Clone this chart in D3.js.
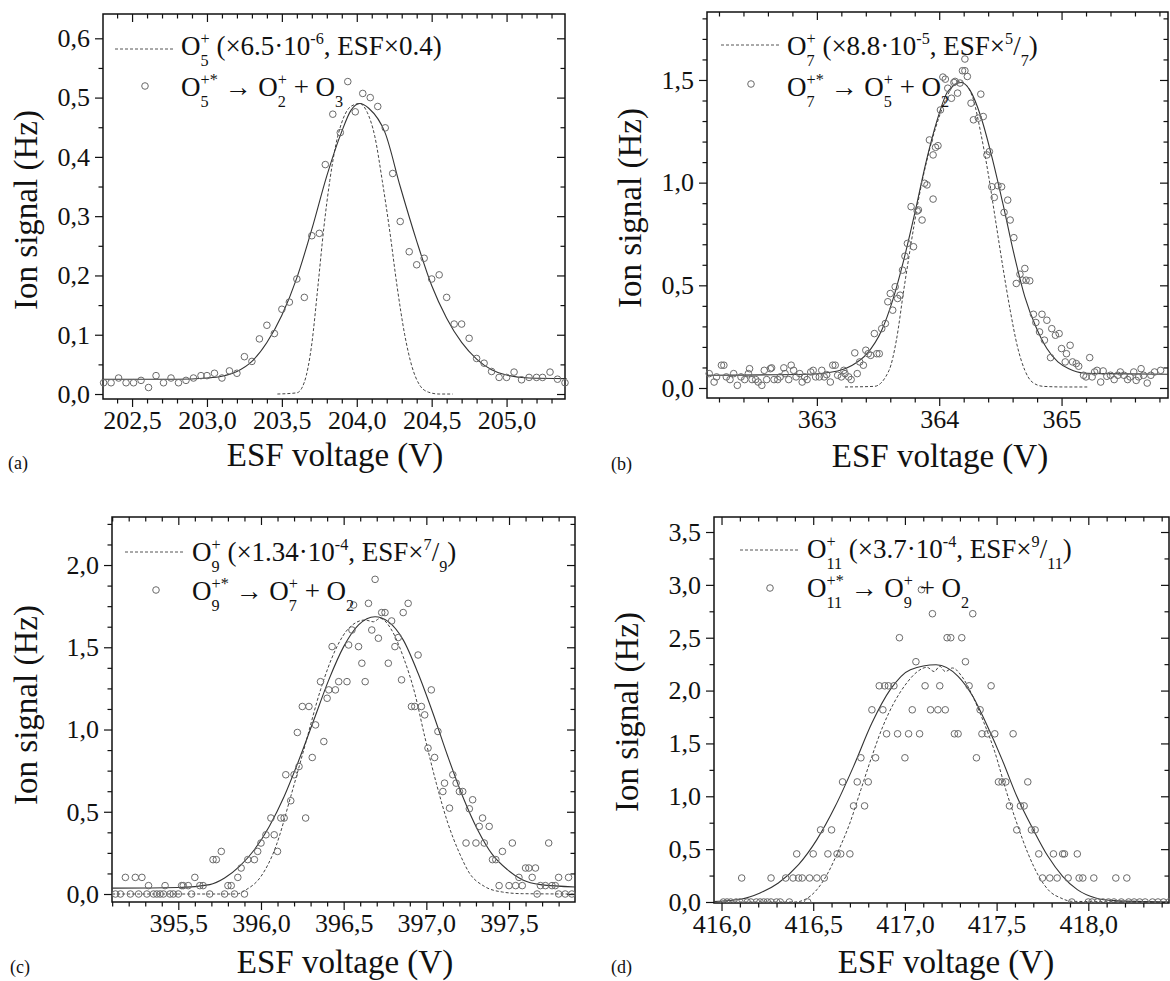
<!DOCTYPE html>
<html>
<head>
<meta charset="utf-8">
<script src="https://cdn.jsdelivr.net/npm/d3@7"></script>
<style>
  body { margin: 0; background: #fff; }
  text { font-family: "Liberation Serif", "Times New Roman", serif; fill: #111; white-space: pre; }
</style>
</head>
<body>
<svg id="fig" width="1170" height="981"></svg>
<script>
// ---- data ----
// (a) O5+* -> O2+ + O3
const aVolt = [202.31,202.36,202.41,202.46,202.51,202.56,202.61,202.66,202.71,202.76,202.81,202.86,202.91,202.96,
  203.00,203.05,203.10,203.15,203.20,203.25,203.30,203.35,203.40,203.45,203.50,203.55,203.60,203.65,203.70,203.75,
  203.79,203.84,203.89,203.94,203.99,204.04,204.09,204.14,204.19,204.24,204.29,204.35,204.40,204.45,204.50,204.55,
  204.60,204.65,204.70,204.75,204.80,204.85,204.90,204.95,205.00,205.05,205.10,205.15,205.20,205.24,205.29,205.34,205.39];
const aSignal = [0.019,0.019,0.027,0.019,0.019,0.023,0.011,0.031,0.019,0.027,0.019,0.023,0.027,0.031,
  0.031,0.035,0.027,0.039,0.035,0.063,0.055,0.093,0.116,0.102,0.143,0.155,0.194,0.163,0.267,0.271,
  0.387,0.472,0.441,0.527,0.476,0.507,0.500,0.485,0.449,0.372,0.291,0.240,0.218,0.229,0.194,0.201,
  0.163,0.118,0.118,0.094,0.060,0.052,0.038,0.028,0.028,0.037,0.024,0.028,0.028,0.028,0.037,0.025,0.019];
const aFit = [[202.30,0.025],[202.8,0.025],[203.0,0.027],[203.1,0.030],[203.2,0.038],[203.3,0.055],[203.4,0.087],
  [203.5,0.133],[203.6,0.196],[203.7,0.278],[203.8,0.368],[203.9,0.443],[203.96,0.478],[204.02,0.490],[204.08,0.482],
  [204.19,0.440],[204.29,0.350],[204.40,0.258],[204.50,0.183],[204.60,0.128],[204.70,0.087],[204.80,0.059],
  [204.90,0.041],[205.00,0.032],[205.15,0.027],[205.40,0.026]];
const aParent = [[203.47,0.0],[203.60,0.002],[203.65,0.02],[203.70,0.085],[203.74,0.18],[203.78,0.28],[203.82,0.36],
  [203.86,0.42],[203.91,0.465],[203.96,0.485],[204.02,0.490],[204.07,0.475],[204.12,0.435],[204.17,0.36],[204.22,0.275],
  [204.27,0.18],[204.32,0.10],[204.37,0.045],[204.42,0.015],[204.48,0.003],[204.55,0.0],[204.64,0.0]];

// (b) O7+* -> O5+ + O2
const bPoints = [[362.12,0.070],[362.16,0.029],[362.18,0.054],[362.22,0.111],[362.24,0.111],[362.26,0.054],[362.29,0.041],
  [362.32,0.070],[362.35,0.013],[362.38,0.054],[362.41,0.041],[362.44,0.070],[362.45,0.094],[362.47,0.041],[362.50,0.041],
  [362.52,0.029],[362.55,0.013],[362.57,0.086],[362.59,0.041],[362.62,0.094],[362.63,0.098],[362.65,0.041],[362.68,0.041],
  [362.70,0.054],[362.73,0.098],[362.74,0.070],[362.77,0.041],[362.79,0.111],[362.81,0.086],[362.83,0.054],[362.86,0.070],
  [362.88,0.029],[362.90,0.054],[362.92,0.041],[362.95,0.078],[362.97,0.086],[362.99,0.054],[363.02,0.054],[363.04,0.086],
  [363.06,0.054],[363.08,0.065],[363.11,0.029],[363.13,0.111],[363.15,0.111],[363.17,0.062],[363.20,0.054],[363.22,0.086],
  [363.23,0.070],[363.26,0.054],[363.28,0.041],[363.31,0.171],[363.33,0.070],[363.35,0.127],[363.38,0.111],[363.40,0.184],
  [363.42,0.167],[363.44,0.159],[363.47,0.265],[363.49,0.167],[363.51,0.167],[363.53,0.289],[363.56,0.314],[363.58,0.420],
  [363.60,0.460],[363.62,0.379],[363.64,0.493],[363.66,0.436],[363.68,0.452],[363.70,0.574],[363.72,0.642],[363.74,0.704],
  [363.77,0.883],[363.79,0.688],[363.82,0.862],[363.83,0.867],[363.86,0.818],[363.88,0.997],[363.90,0.989],[363.92,1.208],
  [363.95,0.920],[363.95,1.135],[363.97,1.172],[363.99,1.180],[364.01,1.354],[364.03,1.514],[364.05,1.504],[364.07,1.460],
  [364.10,1.411],[364.12,1.488],[364.13,1.493],[364.15,1.436],[364.17,1.485],[364.19,1.545],[364.21,1.545],[364.21,1.602],
  [364.23,1.517],[364.26,1.387],[364.28,1.306],[364.32,1.314],[364.34,1.431],[364.36,1.322],[364.39,1.135],[364.41,1.151],
  [364.43,0.980],[364.45,0.928],[364.48,0.985],[364.51,0.980],[364.53,0.855],[364.56,0.915],[364.58,0.818],[364.61,0.732],
  [364.63,0.509],[364.66,0.554],[364.68,0.525],[364.70,0.582],[364.71,0.525],[364.74,0.522],[364.77,0.359],[364.79,0.319],
  [364.82,0.273],[364.84,0.359],[364.86,0.233],[364.88,0.330],[364.91,0.148],[364.92,0.289],[364.95,0.257],[364.98,0.265],
  [365.00,0.192],[365.03,0.127],[365.04,0.167],[365.07,0.208],[365.09,0.127],[365.12,0.119],[365.14,0.106],[365.18,0.062],
  [365.20,0.054],[365.23,0.148],[365.25,0.054],[365.27,0.078],[365.29,0.086],[365.32,0.029],[365.34,0.083],[365.37,0.057],
  [365.40,0.062],[365.43,0.041],[365.46,0.062],[365.48,0.078],[365.51,0.062],[365.54,0.041],[365.56,0.054],[365.59,0.078],
  [365.61,0.037],[365.63,0.054],[365.65,0.094],[365.67,0.062],[365.70,0.024],[365.73,0.062],[365.76,0.078],[365.81,0.086]];
const bFit = [[362.10,0.062],[362.92,0.067],[363.17,0.083],[363.29,0.111],[363.41,0.167],[363.53,0.281],[363.62,0.428],
  [363.71,0.623],[363.80,0.850],[363.89,1.094],[363.98,1.298],[364.07,1.444],[364.18,1.488],[364.25,1.452],[364.34,1.322],
  [364.43,1.127],[364.52,0.899],[364.61,0.655],[364.70,0.444],[364.79,0.298],[364.88,0.192],[364.97,0.127],[365.06,0.094],
  [365.18,0.073],[365.33,0.070],[365.87,0.067]];
const bParent = [[363.23,0.005],[363.47,0.008],[363.59,0.086],[363.65,0.233],[363.71,0.476],[363.77,0.704],[363.83,0.915],
  [363.92,1.159],[364.01,1.338],[364.10,1.460],[364.16,1.493],[364.22,1.476],[364.28,1.403],[364.34,1.241],[364.40,1.046],
  [364.46,0.818],[364.52,0.590],[364.58,0.379],[364.64,0.200],[364.70,0.086],[364.76,0.029],[364.85,0.008],[365.03,0.005],
  [365.21,0.005]];

// (c) O9+* -> O7+ + O2
const cPoints = [[395.12,0],[395.15,0],[395.21,0],[395.26,0],[395.31,0],[395.35,0],[395.37,0],[395.39,0],[395.41,0],
  [395.45,0],[395.47,0],[395.50,0],[395.58,0],[395.69,0],[395.78,0],[395.84,0],[395.90,0],[397.67,0],[397.80,0],[397.84,0],
  [397.88,0],[395.18,0.101],[395.24,0.101],[395.28,0.101],[395.32,0.051],[395.42,0.051],[395.52,0.051],[395.53,0.051],
  [395.56,0.051],[395.60,0.101],[395.63,0.051],[395.65,0.051],[395.71,0.209],[395.73,0.209],[395.76,0.259],[395.80,0.051],
  [395.82,0.051],[395.86,0.101],[395.88,0.158],[395.92,0.209],[395.96,0.209],[395.98,0.259],[396.00,0.310],[396.03,0.360],
  [396.06,0.462],[396.08,0.360],[396.10,0.259],[396.12,0.462],[396.14,0.462],[396.15,0.725],[396.18,0.567],[396.20,0.725],
  [396.22,0.982],[396.23,0.775],[396.25,1.140],[396.29,1.140],[396.27,0.462],[396.31,0.830],[396.33,1.028],[396.36,1.291],
  [396.38,0.927],[396.40,1.190],[396.41,1.241],[396.43,1.504],[396.45,1.241],[396.47,1.291],[396.52,1.291],[396.53,1.514],
  [396.55,1.605],[396.56,1.757],[396.59,1.504],[396.61,1.403],[396.63,1.291],[396.65,1.767],[396.67,1.605],[396.69,1.913],
  [396.71,1.555],[396.73,1.711],[396.75,1.711],[396.77,1.403],[396.79,1.660],[396.81,1.504],[396.83,1.559],[396.85,1.302],
  [396.86,1.711],[396.89,1.767],[396.91,1.140],[396.93,1.140],[396.95,1.453],[396.97,1.140],[396.99,1.089],[397.01,0.887],
  [397.03,1.241],[397.05,0.830],[397.07,0.988],[397.10,0.623],[397.11,0.674],[397.14,0.522],[397.16,0.725],[397.18,0.674],
  [397.20,0.623],[397.22,0.623],[397.24,0.310],[397.26,0.518],[397.28,0.573],[397.30,0.310],[397.32,0.411],[397.34,0.462],
  [397.35,0.310],[397.38,0.411],[397.40,0.209],[397.42,0.209],[397.44,0.051],[397.46,0.259],[397.50,0.051],[397.52,0.310],
  [397.54,0.051],[397.56,0.101],[397.58,0.051],[397.60,0.158],[397.62,0.158],[397.64,0.101],[397.66,0.158],[397.69,0.051],
  [397.72,0.051],[397.74,0.310],[397.76,0.051],[397.78,0.051],[397.80,0.101],[397.86,0.101]];
const cFit = [[395.10,0.036],[395.50,0.040],[395.69,0.057],[395.78,0.097],[395.87,0.168],[395.96,0.269],[396.05,0.411],
  [396.14,0.593],[396.23,0.816],[396.32,1.059],[396.41,1.302],[396.50,1.504],[396.59,1.636],[396.69,1.686],[396.77,1.656],
  [396.86,1.545],[396.95,1.342],[397.04,1.099],[397.13,0.836],[397.22,0.593],[397.31,0.391],[397.40,0.239],[397.49,0.148],
  [397.58,0.087],[397.69,0.057],[397.90,0.043]];
const cParent = [[395.10,0],[395.85,0],[395.91,0.026],[396.00,0.107],[396.09,0.289],[396.18,0.593],[396.27,0.917],
  [396.36,1.241],[396.45,1.484],[396.54,1.625],[396.63,1.666],[396.68,1.655],[396.72,1.676],[396.79,1.605],[396.86,1.443],
  [396.93,1.221],[396.99,0.958],[397.06,0.674],[397.13,0.431],[397.20,0.249],[397.26,0.128],[397.35,0.047],[397.46,0.012],
  [397.58,0.002],[397.90,0]];

// (d) O11+* -> O9+ + O2
const dPoints = [[416.01,0],[416.03,0],[416.05,0],[416.08,0],[416.10,0],[416.14,0],[416.16,0],[416.19,0],[416.21,0],
  [416.23,0],[416.25,0],[416.27,0],[416.30,0],[416.32,0],[416.37,0],[416.47,0],[417.91,0],[418.00,0],[418.02,0],[418.05,0],
  [418.08,0],[418.11,0],[418.14,0],[418.18,0],[418.22,0],[418.25,0],[418.28,0],[418.31,0],[418.35,0],[418.38,0],[418.41,0],
  [418.44,0],
  [416.11,0.227],[416.27,0.227],[416.35,0.227],[416.39,0.227],[416.42,0.227],[416.44,0.227],[416.48,0.227],[416.52,0.227],
  [416.56,0.227],[417.75,0.227],[417.79,0.227],[417.83,0.227],[417.89,0.227],[417.95,0.227],[417.97,0.227],[418.03,0.227],
  [418.15,0.227],[418.21,0.227],
  [416.41,0.455],[416.50,0.455],[416.58,0.455],[416.63,0.455],[416.65,0.455],[416.70,0.455],[417.73,0.455],[417.81,0.455],
  [417.86,0.455],[417.87,0.455],[417.94,0.455],
  [416.54,0.682],[416.60,0.682],[417.61,0.682],[417.69,0.682],[417.71,0.682],
  [416.72,0.909],[416.78,0.909],[417.57,0.909],[417.63,0.909],[417.65,0.909],
  [416.66,1.136],[416.74,1.136],[416.80,1.136],[417.51,1.136],[417.53,1.136],[417.55,1.136],[417.67,1.136],
  [416.76,1.364],[416.84,1.364],[417.00,1.364],[417.39,1.364],
  [416.90,1.591],[416.96,1.591],[417.02,1.591],[417.08,1.591],[417.27,1.591],[417.29,1.591],[417.42,1.591],[417.45,1.591],
  [417.49,1.591],[417.59,1.591],
  [416.82,1.818],[416.88,1.818],[417.04,1.818],[417.14,1.818],[417.18,1.818],[417.22,1.818],[417.41,1.818],
  [416.86,2.045],[416.89,2.045],[416.91,2.045],[416.94,2.045],[417.11,2.045],[417.19,2.045],[417.35,2.045],[417.47,2.045],
  [417.06,2.273],[417.33,2.273],
  [416.97,2.5],[417.23,2.5],[417.25,2.5],[417.31,2.5],
  [417.15,2.727],[417.37,2.727],
  [417.09,2.955]];
const dFit = [[415.96,0.005],[416.11,0.028],[416.21,0.085],[416.31,0.18],[416.42,0.353],[416.52,0.59],[416.62,0.905],
  [416.72,1.283],[416.82,1.693],[416.92,2.009],[417.03,2.198],[417.17,2.245],[417.29,2.135],[417.37,1.946],[417.45,1.662],
  [417.53,1.347],[417.61,1.0],[417.70,0.684],[417.78,0.432],[417.86,0.243],[417.94,0.117],[418.04,0.038],[418.14,0.013],
  [418.44,0.0]];
const dParent = [[415.96,0],[416.40,0],[416.46,0.028],[416.52,0.117],[416.58,0.274],[416.64,0.495],[416.70,0.747],
  [416.76,1.063],[416.82,1.378],[416.88,1.662],[416.94,1.883],[417.01,2.072],[417.07,2.182],[417.12,2.22],[417.16,2.18],
  [417.19,2.23],[417.22,2.18],[417.26,2.214],[417.31,2.135],[417.37,1.946],[417.43,1.70],[417.49,1.42],[417.55,1.063],
  [417.61,0.747],[417.67,0.464],[417.73,0.243],[417.79,0.10],[417.85,0.038],[417.91,0.006],[418.44,0]];

// tick values
const aXTicks = [202.5, 203.0, 203.5, 204.0, 204.5, 205.0];
const aYTicks = [0, 0.1, 0.2, 0.3, 0.4, 0.5, 0.6];
const bXTicks = [363, 364, 365];
const bYTicks = [0, 0.5, 1.0, 1.5];
const cXTicks = [395.5, 396.0, 396.5, 397.0, 397.5];
const cYTicks = [0, 0.5, 1.0, 1.5, 2.0];
const dXTicks = [416.0, 416.5, 417.0, 417.5, 418.0];
const dYTicks = [0, 0.5, 1.0, 1.5, 2.0, 2.5, 3.0, 3.5];

// legend texts: strings are normal text, objects carry sub/superscripts
const aLegend = [
  ['O', {sub: '5', sup: '+'}, ' (×6.5·10', {sup: '-6'}, ', ESF×0.4)'],
  ['O', {sub: '5', sup: '+*'}, ' → O', {sub: '2', sup: '+'}, ' + O', {sub: '3'}]];
const bLegend = [
  ['O', {sub: '7', sup: '+'}, ' (×8.8·10', {sup: '-5'}, ', ESF×', {sup: '5'}, '/', {sub: '7'}, ')'],
  ['O', {sub: '7', sup: '+*'}, ' → O', {sub: '5', sup: '+'}, ' + O', {sub: '2'}]];
const cLegend = [
  ['O', {sub: '9', sup: '+'}, ' (×1.34·10', {sup: '-4'}, ', ESF×', {sup: '7'}, '/', {sub: '9'}, ')'],
  ['O', {sub: '9', sup: '+*'}, ' → O', {sub: '7', sup: '+'}, ' + O', {sub: '2'}]];
const dLegend = [
  ['O', {sub: '11', sup: '+'}, ' (×3.7·10', {sup: '-4'}, ', ESF×', {sup: '9'}, '/', {sub: '11'}, ')'],
  ['O', {sub: '11', sup: '+*'}, ' → O', {sub: '9', sup: '+'}, ' + O', {sub: '2'}]];

// ---- layout ----
const panels = [
  {id: 'a', box: [103, 14, 565, 399], xDom: [202.306, 205.39], yDom: [-0.0084, 0.641],
   pts: aVolt.map((v, i) => [v, aSignal[i]]), fit: aFit, parent: aParent,
   xTicks: aXTicks, xMinor: 0.1, xDig: 1, yTicks: aYTicks, yMinor: 0.05, yDig: 1, legend: aLegend,
   leg: {lx: [115, 173], ly: 49, tx: 181, r1: 55, r2: 96, cx: 145, cy: 86},
   yTitle: [37, 210], xTitle: [335, 466], tag: [8, 469]},
  {id: 'b', box: [707, 12, 1168, 398], xDom: [362.102, 365.87], yDom: [-0.0487, 1.831],
   pts: bPoints, fit: bFit, parent: bParent,
   xTicks: bXTicks, xMinor: 0.2, xDig: 0, yTicks: bYTicks, yMinor: 0.1, yDig: 1, legend: bLegend,
   leg: {lx: [721, 779], ly: 45, tx: 787, r1: 55, r2: 96, cx: 751, cy: 84},
   yTitle: [641, 208], xTitle: [940, 467], tag: [611, 470]},
  {id: 'c', box: [112, 517, 575, 902], xDom: [395.099, 397.899], yDom: [-0.0486, 2.292],
   pts: cPoints, fit: cFit, parent: cParent,
   xTicks: cXTicks, xMinor: 0.1, xDig: 1, yTicks: cYTicks, yMinor: 0.125, yDig: 1, legend: cLegend,
   leg: {lx: [125, 185], ly: 552, tx: 192, r1: 561, r2: 600, cx: 156, cy: 590},
   yTitle: [37, 705], xTitle: [345, 973], tag: [10, 973]},
  {id: 'd', box: [714, 517, 1169, 903], xDom: [415.959, 418.44], yDom: [-0.0095, 3.642],
   pts: dPoints, fit: dFit, parent: dParent,
   xTicks: dXTicks, xMinor: 0.1, xDig: 1, yTicks: dYTicks, yMinor: 0.25, yDig: 1, legend: dLegend,
   leg: {lx: [740, 800], ly: 550, tx: 807, r1: 558, r2: 597, cx: 770, cy: 588},
   yTitle: [638, 712], xTitle: [946, 973], tag: [611, 973]}
];

const svg = d3.select('#fig');
const FONT = '"Liberation Serif", "Times New Roman", serif';
const comma = (d, n) => d.toFixed(n).replace('.', ',');

function minorTicks(dom, step, majors) {
  const out = [];
  const k0 = Math.ceil(dom[0] / step - 1e-9), k1 = Math.floor(dom[1] / step + 1e-9);
  for (let k = k0; k <= k1; k++) {
    const v = +(k * step).toFixed(4);
    if (!majors.some(m => Math.abs(m - v) < 1e-6)) out.push(v);
  }
  return out;
}

function styleAxis(sel) {
  sel.select('.domain').remove();
  sel.attr('font-family', FONT).attr('font-size', 26);
  sel.selectAll('line').attr('stroke', '#111').attr('stroke-width', 1.2);
  sel.selectAll('text').attr('fill', '#111');
}

function rich(g, x, y, parts, fs) {
  let cx = x;
  parts.forEach(p => {
    if (typeof p === 'string') {
      const t = g.append('text').attr('x', cx).attr('y', y).attr('font-size', fs).text(p);
      cx += t.node().getComputedTextLength();
    } else {
      let w = 0;
      if (p.sup) {
        const t = g.append('text').attr('x', cx).attr('y', y - fs * 0.4).attr('font-size', fs * 0.6).text(p.sup);
        w = Math.max(w, t.node().getComputedTextLength());
      }
      if (p.sub) {
        const t = g.append('text').attr('x', cx).attr('y', y + fs * 0.4).attr('font-size', fs * 0.6).text(p.sub);
        w = Math.max(w, t.node().getComputedTextLength());
      }
      cx += w;
    }
  });
}

panels.forEach(p => {
  const [x0, y0, x1, y1] = p.box;
  const x = d3.scaleLinear().domain(p.xDom).range([x0, x1]);
  const y = d3.scaleLinear().domain(p.yDom).range([y1, y0]);
  const g = svg.append('g').attr('class', 'panel-' + p.id);

  const xMin = minorTicks(p.xDom, p.xMinor, p.xTicks);
  const yMin = minorTicks(p.yDom, p.yMinor, p.yTicks);

  // bottom (outward, labelled)
  g.append('g').attr('transform', `translate(0,${y1})`)
    .call(d3.axisBottom(x).tickValues(p.xTicks).tickSizeInner(8).tickSizeOuter(0).tickPadding(4)
      .tickFormat(d => comma(d, p.xDig))).call(styleAxis);
  g.append('g').attr('transform', `translate(0,${y1})`)
    .call(d3.axisBottom(x).tickValues(xMin).tickSizeInner(4.5).tickSizeOuter(0).tickFormat('')).call(styleAxis);
  // top (inward)
  g.append('g').attr('transform', `translate(0,${y0})`)
    .call(d3.axisTop(x).tickValues(p.xTicks).tickSizeInner(-8).tickSizeOuter(0).tickFormat('')).call(styleAxis);
  g.append('g').attr('transform', `translate(0,${y0})`)
    .call(d3.axisTop(x).tickValues(xMin).tickSizeInner(-4.5).tickSizeOuter(0).tickFormat('')).call(styleAxis);
  // left (outward, labelled)
  g.append('g').attr('transform', `translate(${x0},0)`)
    .call(d3.axisLeft(y).tickValues(p.yTicks).tickSizeInner(8).tickSizeOuter(0).tickPadding(5)
      .tickFormat(d => comma(d, p.yDig))).call(styleAxis);
  g.append('g').attr('transform', `translate(${x0},0)`)
    .call(d3.axisLeft(y).tickValues(yMin).tickSizeInner(4.5).tickSizeOuter(0).tickFormat('')).call(styleAxis);
  // right (inward)
  g.append('g').attr('transform', `translate(${x1},0)`)
    .call(d3.axisRight(y).tickValues(p.yTicks).tickSizeInner(-8).tickSizeOuter(0).tickFormat('')).call(styleAxis);
  g.append('g').attr('transform', `translate(${x1},0)`)
    .call(d3.axisRight(y).tickValues(yMin).tickSizeInner(-4.5).tickSizeOuter(0).tickFormat('')).call(styleAxis);

  // frame
  g.append('rect').attr('x', x0).attr('y', y0).attr('width', x1 - x0).attr('height', y1 - y0)
    .attr('fill', 'none').attr('stroke', '#111').attr('stroke-width', 1.5);

  // clip
  svg.append('clipPath').attr('id', 'clip-' + p.id)
    .append('rect').attr('x', x0 - 4).attr('y', y0).attr('width', x1 - x0 + 8).attr('height', y1 - y0);
  const plot = g.append('g').attr('clip-path', `url(#clip-${p.id})`);

  const line = d3.line().x(d => x(d[0])).y(d => y(d[1])).curve(d3.curveMonotoneX);
  plot.append('path').datum(p.parent).attr('d', line)
    .attr('fill', 'none').attr('stroke', '#444').attr('stroke-width', 1).attr('stroke-dasharray', '3,2');
  plot.append('path').datum(p.fit).attr('d', line)
    .attr('fill', 'none').attr('stroke', '#333').attr('stroke-width', 1.1);
  plot.selectAll('circle').data(p.pts).join('circle')
    .attr('cx', d => x(d[0])).attr('cy', d => y(d[1])).attr('r', 3.3)
    .attr('fill', 'none').attr('stroke', '#6a6a6a').attr('stroke-width', 1);

  // legend
  const L = p.leg;
  g.append('line').attr('x1', L.lx[0]).attr('x2', L.lx[1]).attr('y1', L.ly).attr('y2', L.ly)
    .attr('stroke', '#555').attr('stroke-width', 1).attr('stroke-dasharray', '3,2');
  g.append('circle').attr('cx', L.cx).attr('cy', L.cy).attr('r', 3.3)
    .attr('fill', 'none').attr('stroke', '#6a6a6a').attr('stroke-width', 1);
  const lg = g.append('g');
  rich(lg, L.tx, L.r1, p.legend[0], 27);
  rich(lg, L.tx, L.r2, p.legend[1], 27);

  // titles
  g.append('text').attr('transform', `translate(${p.yTitle[0]},${p.yTitle[1]}) rotate(-90)`)
    .attr('text-anchor', 'middle').attr('font-size', 33).text('Ion signal (Hz)');
  g.append('text').attr('x', p.xTitle[0]).attr('y', p.xTitle[1])
    .attr('text-anchor', 'middle').attr('font-size', 33).text('ESF voltage (V)');
  g.append('text').attr('x', p.tag[0]).attr('y', p.tag[1]).attr('font-size', 18).text(`(${p.id})`);
});
</script>
</body>
</html>
